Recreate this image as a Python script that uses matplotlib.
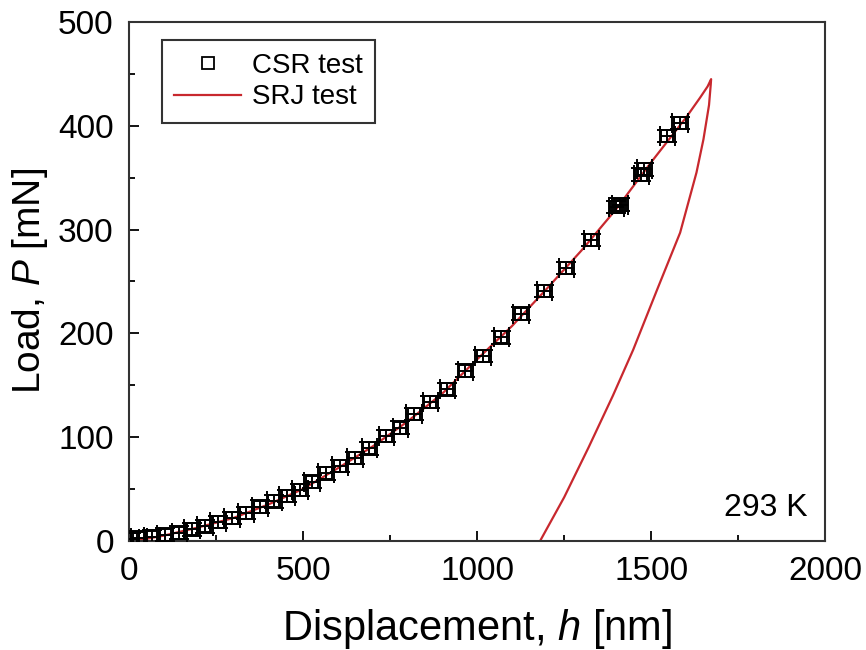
import matplotlib
matplotlib.use("Agg")
import matplotlib.pyplot as plt
from matplotlib.ticker import MultipleLocator

plt.rcParams['font.family'] = ['Liberation Sans', 'DejaVu Sans']
plt.rcParams['mathtext.fontset'] = 'custom'
plt.rcParams['mathtext.it'] = 'Liberation Sans:italic'
plt.rcParams['mathtext.rm'] = 'Liberation Sans'

# CSR test points (displacement nm, load mN)
csr_h = [6, 29, 66, 103, 144, 181, 218, 256, 296, 336, 376, 417, 454, 491, 526,
         566, 606, 649, 690, 739, 779, 819, 865, 914, 966, 1017, 1069, 1126,
         1193, 1256, 1328, 1400, 1410, 1472, 1480, 1546, 1583]
csr_P = [2, 3, 4, 6, 8, 11, 14, 18, 22, 27, 33, 38, 43, 49, 57,
         65, 72, 80, 89, 101, 109, 122, 134, 146, 164, 178, 196, 219,
         241, 263, 290, 322, 324, 353, 358, 390, 403]
csr_herr = [22] * len(csr_h)
csr_Perr = [6] * len(csr_h)

# SRJ test loading + unloading curve
srj_h = [0, 50, 100, 200, 300, 400, 500, 600, 700, 800, 900, 1000, 1100, 1200,
         1300, 1400, 1500, 1600, 1640, 1662, 1672,
         1671, 1666, 1650, 1630, 1583, 1518, 1448, 1390, 1320, 1250, 1181]
srj_P = [0, 2, 5, 13, 22, 35, 50, 70, 91, 115, 142, 175, 207, 243,
         280, 320, 365, 408, 427, 438, 445,
         440, 420, 387, 355, 297, 243, 184, 140, 90, 42, 0]

fig = plt.figure(figsize=(8.66, 6.5), dpi=100)
ax = fig.add_axes([0.149, 0.168, 0.804, 0.798])

red = '#c8282e'
ax.plot(srj_h, srj_P, color=red, lw=1.6, label='SRJ test', zorder=2)
ax.errorbar(csr_h, csr_P, xerr=csr_herr, yerr=csr_Perr, fmt='s', mfc='none',
            mec='black', ms=9, mew=1.4, ecolor='black', elinewidth=1.4,
            capsize=7, capthick=1.4, zorder=3)
ax.plot([], [], 's', mfc='none', mec='black', ms=8, mew=1.3, label='CSR test')

ax.set_xlim(0, 2000)
ax.set_ylim(0, 500)
ax.xaxis.set_major_locator(MultipleLocator(500))
ax.xaxis.set_minor_locator(MultipleLocator(250))
ax.yaxis.set_major_locator(MultipleLocator(100))
ax.yaxis.set_minor_locator(MultipleLocator(50))
ax.tick_params(which='both', direction='in', top=False, right=False,
               labelsize=24, width=1.3, colors='black')
ax.tick_params(which='major', length=7)
ax.tick_params(axis='x', which='major', pad=11)
ax.tick_params(axis='y', which='major', pad=11)
ax.tick_params(which='minor', length=4)
for s in ax.spines.values():
    s.set_linewidth(1.5)
    s.set_color('#333333')

ax.set_xlabel(r'Displacement, $h$ [nm]', fontsize=30, labelpad=14)
ax.set_ylabel(r'Load, $P$ [mN]', fontsize=28, labelpad=6)

handles, labels = ax.get_legend_handles_labels()
order = [labels.index('CSR test'), labels.index('SRJ test')]
leg = ax.legend([handles[i] for i in order], [labels[i] for i in order],
                loc='upper left', bbox_to_anchor=(0.047, 0.965), fontsize=20,
                borderaxespad=0.0,
                frameon=True, fancybox=False, edgecolor='black',
                borderpad=0.45, handlelength=2.4, handletextpad=0.4,
                labelspacing=0.2)
leg.get_frame().set_linewidth(1.5)

ax.text(1950, 24, '293 K', fontsize=23, ha='right', va='baseline')

fig.savefig('out.png', dpi=100)
